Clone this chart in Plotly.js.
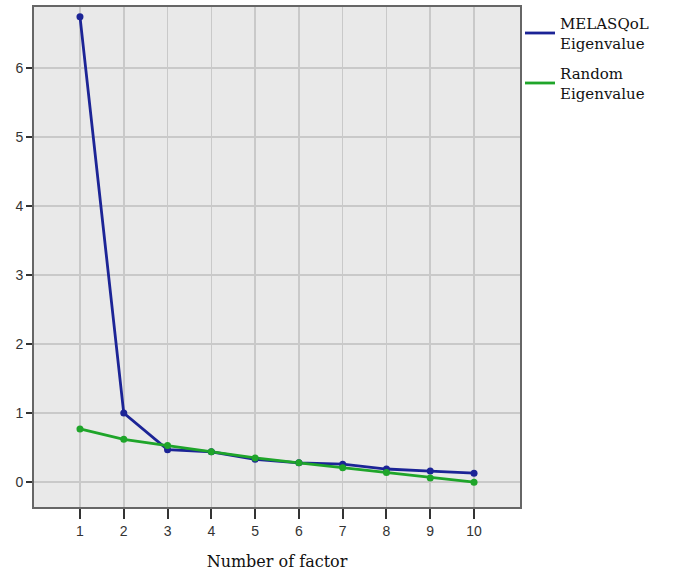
<!DOCTYPE html>
<html>
<head>
<meta charset="utf-8">
<script src="https://cdn.plot.ly/plotly-3.0.1.min.js"></script>
<style>html,body{margin:0;padding:0;background:#fff;}#chart{width:678px;height:572px;}</style>
</head>
<body>
<div id="chart"></div>
<script>
const factors = [1, 2, 3, 4, 5, 6, 7, 8, 9, 10];
const melasqolEigen = [6.74, 1.0, 0.47, 0.44, 0.33, 0.28, 0.26, 0.19, 0.16, 0.13];
const randomEigen = [0.77, 0.62, 0.53, 0.44, 0.35, 0.28, 0.21, 0.14, 0.06, 0.0];
const xTicks = [1, 2, 3, 4, 5, 6, 7, 8, 9, 10];
const yTicks = [0, 1, 2, 3, 4, 5, 6];
const seriesNames = ['MELASQoL<br>Eigenvalue', 'Random<br>Eigenvalue'];
const blue = '#1c2496', green = '#1fa52a';

const traces = [
  {x: factors, y: melasqolEigen, type: 'scatter', mode: 'lines',
   name: seriesNames[0], legendgroup: 'a', showlegend: true,
   line: {color: blue, width: 2.8}},
  {x: factors, y: randomEigen, type: 'scatter', mode: 'lines',
   name: seriesNames[1], legendgroup: 'b', showlegend: true,
   line: {color: green, width: 2.8}},
  {x: factors, y: melasqolEigen, type: 'scatter', mode: 'markers',
   legendgroup: 'a', showlegend: false, marker: {color: blue, size: 7}},
  {x: factors, y: randomEigen, type: 'scatter', mode: 'markers',
   legendgroup: 'b', showlegend: false, marker: {color: green, size: 7}}
];

const layout = {
  width: 678, height: 572,
  margin: {l: 34, r: 158, t: 7, b: 65},
  paper_bgcolor: '#ffffff',
  plot_bgcolor: '#e9e9e9',
  showlegend: true,
  legend: {x: 1.0, xanchor: 'left', y: 1.0, yanchor: 'top',
           font: {family: 'DejaVu Serif, Liberation Serif, serif', size: 15, color: '#111'},
           tracegroupgap: 8, bgcolor: 'rgba(0,0,0,0)'},
  xaxis: {range: [-0.05, 11.05], tickvals: xTicks, ticktext: xTicks.map(String),
          showgrid: true, gridcolor: '#c9c9c9', gridwidth: 1.5, zeroline: false,
          showline: true, linecolor: '#666', linewidth: 2, mirror: true,
          ticks: 'outside', ticklen: 10, tickwidth: 2, tickcolor: '#333',
          tickfont: {family: 'Liberation Sans, Arial, sans-serif', size: 14, color: '#333'},
          title: {text: 'Number of factor', standoff: 18,
                  font: {family: 'DejaVu Serif, Liberation Serif, serif', size: 16, color: '#111'}}},
  yaxis: {range: [-0.36, 6.88], tickvals: yTicks, ticktext: yTicks.map(String),
          showgrid: true, gridcolor: '#c9c9c9', gridwidth: 1.5, zeroline: false,
          showline: true, linecolor: '#666', linewidth: 2, mirror: true,
          ticks: 'outside', ticklen: 6, tickwidth: 2, tickcolor: '#333',
          tickfont: {family: 'Liberation Sans, Arial, sans-serif', size: 14, color: '#333'}}
};

Plotly.newPlot('chart', traces, layout, {displayModeBar: false, staticPlot: true});
</script>
</body>
</html>
